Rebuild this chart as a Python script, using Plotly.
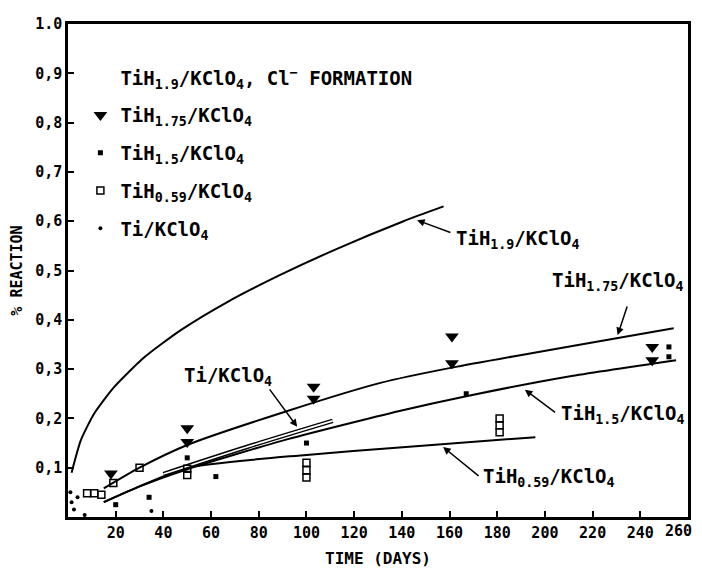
import plotly.graph_objects as go

# ---------------- data ----------------
# fitted curves
t_19 = [1.5, 5.4, 11, 19.4, 32, 47.3, 66.8, 89, 112.8, 140.7, 157.5]
r_19 = [0.09, 0.156, 0.21, 0.264, 0.324, 0.379, 0.436, 0.491, 0.544, 0.6, 0.63]

t_175 = [15, 30, 50, 92, 131, 161, 254]
r_175 = [0.058, 0.1, 0.146, 0.215, 0.272, 0.303, 0.383]

t_15 = [15, 30, 50, 90, 139, 167, 210, 255]
r_15 = [0.03, 0.062, 0.097, 0.155, 0.215, 0.245, 0.285, 0.318]

t_059 = [15, 30, 50, 100, 139, 196]
r_059 = [0.03, 0.062, 0.1, 0.126, 0.141, 0.162]

t_ti = [40, 75, 111]
r_ti = [0.087, 0.142, 0.195]

# measured points
p175_t = [18, 50, 50, 103, 103, 161, 161, 245, 245]
p175_r = [0.088, 0.18, 0.152, 0.264, 0.24, 0.366, 0.312, 0.345, 0.318]

p15_t = [20, 34, 50, 62, 100, 167, 252, 252]
p15_r = [0.025, 0.04, 0.12, 0.082, 0.15, 0.25, 0.345, 0.325]

p059_t = [8, 11, 14, 19, 30, 50, 50, 100, 100, 100, 181, 181, 181]
p059_r = [0.048, 0.048, 0.045, 0.069, 0.1, 0.085, 0.098, 0.08, 0.095, 0.11, 0.172, 0.186, 0.2]

pti_t = [1, 1.5, 2.5, 4, 7, 35]
pti_r = [0.05, 0.03, 0.015, 0.04, 0.004, 0.012]

x_ticks = list(range(20, 261, 20))
x_ticktext = [str(v) for v in x_ticks]
x_last = x_ticks[-1]
y_ticks = [0.1, 0.2, 0.3, 0.4, 0.5, 0.6, 0.7, 0.8, 0.9, 1.0]
y_ticktext = ["0,1", "0,2", "0,3", "0,4", "0,5", "0,6", "0,7", "0,8", "0,9", "1.0"]

# curve labels: (text, text_x, text_y, arrow_head_x, arrow_head_y, arrow_tail_x, arrow_tail_y)
curve_labels = [
    ("TiH<sub>1.9</sub>/KClO<sub>4</sub>", 162, 0.562, 146.4, 0.602, 161, 0.576),
    ("TiH<sub>1.75</sub>/KClO<sub>4</sub>", 202, 0.478, 230.5, 0.369, 234.7, 0.43),
    ("TiH<sub>1.5</sub>/KClO<sub>4</sub>", 206, 0.208, 191.6, 0.258, 204.9, 0.21),
    ("TiH<sub>0.59</sub>/KClO<sub>4</sub>", 173, 0.08, 157.3, 0.142, 172.8, 0.081),
    ("Ti/KClO<sub>4</sub>", 48, 0.285, 96.1, 0.183, 84.1, 0.262),
]

FONT = "DejaVu Sans Mono, Liberation Mono, monospace"

fig = go.Figure()

# legend header entry (no symbol)
fig.add_trace(go.Scatter(x=[None], y=[None], mode="markers", legendgroup="g0",
                         marker=dict(color="rgba(0,0,0,0)", size=1),
                         name="TiH<sub>1.9</sub>/KClO<sub>4</sub>, Cl<sup>−</sup> FORMATION"))

line_style = dict(color="black", width=2, shape="spline", smoothing=0.6)
fig.add_trace(go.Scatter(x=t_19, y=r_19, mode="lines", line=line_style, showlegend=False))
fig.add_trace(go.Scatter(x=t_175, y=r_175, mode="lines", line=line_style, showlegend=False))
fig.add_trace(go.Scatter(x=t_15, y=r_15, mode="lines", line=line_style, showlegend=False))
fig.add_trace(go.Scatter(x=t_059, y=r_059, mode="lines", line=line_style, showlegend=False))
# Ti double (hatched) line
fig.add_trace(go.Scatter(x=t_ti, y=r_ti, mode="lines",
                         line=dict(color="black", width=4.5, shape="spline"), showlegend=False))
fig.add_trace(go.Scatter(x=t_ti, y=r_ti, mode="lines",
                         line=dict(color="white", width=1.6, shape="spline"), showlegend=False))

fig.add_trace(go.Scatter(x=p175_t, y=p175_r, mode="markers", legendgroup="g1",
                         name="TiH<sub>1.75</sub>/KClO<sub>4</sub>",
                         marker=dict(symbol="triangle-down", size=12, color="black")))
fig.add_trace(go.Scatter(x=p15_t, y=p15_r, mode="markers", legendgroup="g2",
                         name="TiH<sub>1.5</sub>/KClO<sub>4</sub>",
                         marker=dict(symbol="square", size=5, color="black")))
fig.add_trace(go.Scatter(x=p059_t, y=p059_r, mode="markers", legendgroup="g3",
                         name="TiH<sub>0.59</sub>/KClO<sub>4</sub>",
                         marker=dict(symbol="square-open", size=7, color="black", line=dict(width=1.5))))
fig.add_trace(go.Scatter(x=pti_t, y=pti_r, mode="markers", legendgroup="g4",
                         name="Ti/KClO<sub>4</sub>",
                         marker=dict(symbol="circle", size=4, color="black")))

for txt, tx, ty, hx, hy, ax, ay in curve_labels:
    fig.add_annotation(x=hx, y=hy, ax=ax, ay=ay, xref="x", yref="y", axref="x", ayref="y",
                       text="", showarrow=True, arrowhead=2, arrowsize=1, arrowwidth=1.5,
                       arrowcolor="black")
    fig.add_annotation(x=tx, y=ty, xref="x", yref="y", text=txt, showarrow=False,
                       xanchor="left", yanchor="middle",
                       font=dict(family=FONT, size=19, color="black", weight="bold"))

# last x tick label drawn as an annotation so it is not cut at the right edge
tick_labels_shown = x_ticktext[:-1] + [""]
fig.add_annotation(x=x_last, y=0, xref="x", yref="y", text=x_ticktext[-1], showarrow=False,
                   xanchor="right", yanchor="top", xshift=6, yshift=-3,
                   font=dict(family=FONT, size=15, color="black", weight="bold"))

# page body has an 8px default margin: figure sized/offset so the plot box lands
# where it does in the reference and nothing overflows the window
fig.update_layout(
    width=686, height=569, autosize=False,
    margin=dict(l=60, r=6, t=16, b=60, autoexpand=False),
    paper_bgcolor="white", plot_bgcolor="white",
    font=dict(family=FONT, size=15, color="black", weight="bold"),
    legend=dict(x=0.02, y=0.93, xanchor="left", yanchor="top", tracegroupgap=10,
                bgcolor="rgba(0,0,0,0)",
                font=dict(family=FONT, size=19, color="black", weight="bold"),
                itemwidth=30),
    xaxis=dict(range=[0, 260], tickvals=x_ticks, ticktext=tick_labels_shown, automargin=False,
               ticks="inside", ticklen=6, tickwidth=1.5, tickcolor="black",
               showline=True, linewidth=2.5, linecolor="black", mirror=True,
               showgrid=False, zeroline=False,
               tickfont=dict(family=FONT, size=15, weight="bold"),
               title=dict(text="TIME (DAYS)", font=dict(family=FONT, size=16, weight="bold"),
                          standoff=13)),
    yaxis=dict(range=[0, 1.0], tickvals=y_ticks, ticktext=y_ticktext, automargin=False,
               ticks="inside", ticklen=6, tickwidth=1.5, tickcolor="black",
               showline=True, linewidth=2.5, linecolor="black", mirror=True,
               showgrid=False, zeroline=False,
               tickfont=dict(family=FONT, size=15, weight="bold"),
               title=dict(text="% REACTION", font=dict(family=FONT, size=15, weight="bold"),
                          standoff=10)),
)

fig.write_html("out.html")
